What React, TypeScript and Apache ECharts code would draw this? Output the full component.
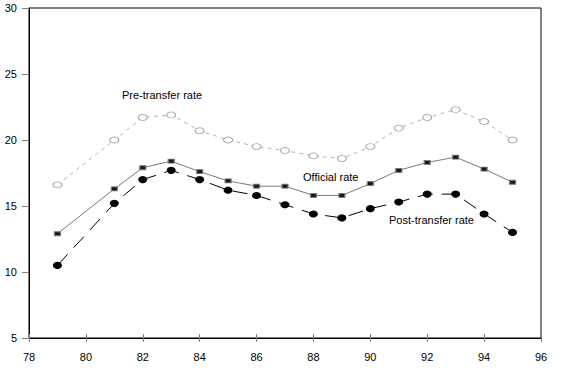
import React, { useEffect, useRef } from "react";
import * as echarts from "echarts";

const years = [79, 81, 82, 83, 84, 85, 86, 87, 88, 89, 90, 91, 92, 93, 94, 95];
const preTransfer = [16.6, 20.0, 21.7, 21.9, 20.7, 20.0, 19.5, 19.2, 18.8, 18.6, 19.5, 20.9, 21.7, 22.3, 21.4, 20.0];
const officialRate = [12.9, 16.3, 17.9, 18.4, 17.6, 16.9, 16.5, 16.5, 15.8, 15.8, 16.7, 17.7, 18.3, 18.7, 17.8, 16.8];
const postTransfer = [10.5, 15.2, 17.0, 17.7, 17.0, 16.2, 15.8, 15.1, 14.4, 14.1, 14.8, 15.3, 15.9, 15.9, 14.4, 13.0];
const seriesNames = ["Pre-transfer rate", "Official rate", "Post-transfer rate"];

const FONT = "'Liberation Sans', Arial, sans-serif";

export default function App() {
  const ref = useRef<HTMLDivElement>(null);
  useEffect(() => {
    document.body.style.margin = "0";
    const chart = echarts.init(ref.current!, undefined, { renderer: "svg" });
    const pairs = (vals: number[]) => years.map((y, i) => [y, vals[i]]);
    chart.setOption({
      animation: false,
      backgroundColor: "#ffffff",
      grid: { left: 29, top: 8, right: 30, bottom: 46, show: true, borderColor: "#000", borderWidth: 1 },
      xAxis: [
        {
          type: "value",
          min: 78,
          max: 96,
          interval: 2,
          axisLine: { show: true, lineStyle: { color: "#000", width: 1 } },
          axisTick: { show: true, length: 4, lineStyle: { color: "#808080" } },
          axisLabel: { margin: 13, color: "#000", fontSize: 11, fontFamily: FONT },
          splitLine: { show: false },
        },
        {
          type: "value",
          position: "bottom",
          min: 78,
          max: 96,
          interval: 2,
          axisLine: { show: false },
          axisTick: { show: true, inside: true, length: 4, lineStyle: { color: "#808080" } },
          axisLabel: { show: false },
          splitLine: { show: false },
        },
      ],
      yAxis: {
        type: "value",
        min: 5,
        max: 30,
        interval: 5,
        axisLine: { show: true, lineStyle: { color: "#000", width: 1 } },
        axisTick: { show: true, length: 7, lineStyle: { color: "#808080" } },
        axisLabel: { margin: 12, color: "#000", fontSize: 11, fontFamily: FONT },
        splitLine: { show: false },
      },
      series: [
        {
          name: seriesNames[0],
          type: "line",
          data: pairs(preTransfer),
          symbol: "circle",
          symbolSize: [9, 6],
          lineStyle: { color: "#b4b4b4", width: 1, type: [4, 4] },
          itemStyle: { color: "#ffffff", borderColor: "#a8a8a8", borderWidth: 1 },
          z: 2,
        },
        {
          name: seriesNames[1],
          type: "line",
          data: pairs(officialRate),
          symbol: "rect",
          symbolSize: [6, 4],
          lineStyle: { color: "#7a7a7a", width: 1 },
          itemStyle: { color: "#1a1a1a", borderColor: "#7a7a7a", borderWidth: 1 },
          z: 3,
        },
        {
          name: seriesNames[2],
          type: "line",
          data: pairs(postTransfer),
          symbol: "circle",
          symbolSize: [9, 7],
          lineStyle: { color: "#000000", width: 1, type: [15, 9] },
          itemStyle: { color: "#000000" },
          z: 4,
        },
      ],
      graphic: [
        { type: "text", left: 122, top: 89, style: { text: seriesNames[0], fontSize: 11, fontFamily: FONT, fill: "#000" } },
        { type: "text", left: 303, top: 171, style: { text: seriesNames[1], fontSize: 11, fontFamily: FONT, fill: "#000" } },
        { type: "text", left: 389, top: 214, style: { text: seriesNames[2], fontSize: 11, fontFamily: FONT, fill: "#000" } },
      ],
    });
    return () => chart.dispose();
  }, []);
  return <div ref={ref} style={{ width: 571, height: 384 }} />;
}
